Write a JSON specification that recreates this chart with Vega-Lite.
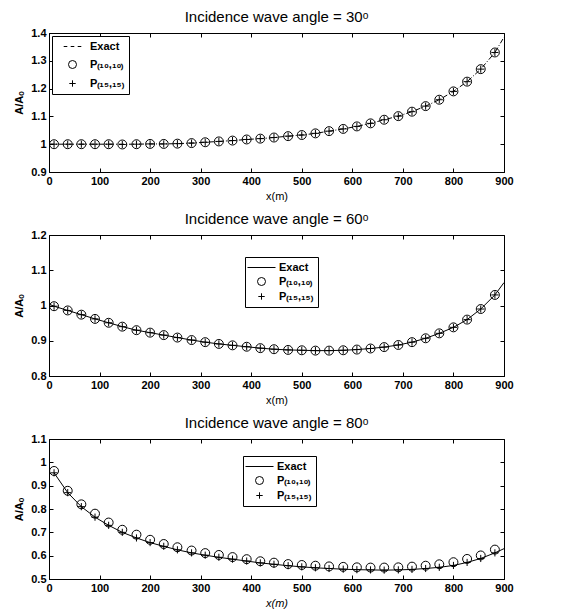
{
  "$schema": "https://vega.github.io/schema/vega-lite/v6.json",
  "padding": {"left": 13, "top": 9, "right": 5, "bottom": 2},
  "background": "white",
  "datasets": {
    "a30": [
      {"x": 0, "Exact": 1.0},
      {"x": 10, "Exact": 1.0, "P10": 1.0, "P15": 1.0},
      {"x": 37, "Exact": 1.0, "P10": 1.0, "P15": 1.0},
      {"x": 64, "Exact": 1.0, "P10": 1.0, "P15": 1.0},
      {"x": 91, "Exact": 1.0, "P10": 1.0, "P15": 1.0},
      {"x": 118, "Exact": 1.0, "P10": 1.0, "P15": 1.0},
      {"x": 145, "Exact": 1.0, "P10": 0.999, "P15": 0.999},
      {"x": 173, "Exact": 1.0, "P10": 1.0, "P15": 1.0},
      {"x": 200, "Exact": 1.001, "P10": 1.001, "P15": 1.001},
      {"x": 227, "Exact": 1.001, "P10": 1.001, "P15": 1.001},
      {"x": 254, "Exact": 1.002, "P10": 1.002, "P15": 1.002},
      {"x": 282, "Exact": 1.004, "P10": 1.004, "P15": 1.004},
      {"x": 309, "Exact": 1.007, "P10": 1.007, "P15": 1.007},
      {"x": 336, "Exact": 1.01, "P10": 1.01, "P15": 1.01},
      {"x": 363, "Exact": 1.013, "P10": 1.013, "P15": 1.013},
      {"x": 391, "Exact": 1.017, "P10": 1.017, "P15": 1.017},
      {"x": 418, "Exact": 1.02, "P10": 1.02, "P15": 1.02},
      {"x": 445, "Exact": 1.024, "P10": 1.024, "P15": 1.024},
      {"x": 473, "Exact": 1.029, "P10": 1.029, "P15": 1.029},
      {"x": 500, "Exact": 1.033, "P10": 1.033, "P15": 1.033},
      {"x": 527, "Exact": 1.039, "P10": 1.039, "P15": 1.039},
      {"x": 554, "Exact": 1.047, "P10": 1.047, "P15": 1.047},
      {"x": 582, "Exact": 1.055, "P10": 1.055, "P15": 1.055},
      {"x": 609, "Exact": 1.064, "P10": 1.064, "P15": 1.064},
      {"x": 636, "Exact": 1.075, "P10": 1.075, "P15": 1.075},
      {"x": 663, "Exact": 1.088, "P10": 1.088, "P15": 1.088},
      {"x": 691, "Exact": 1.101, "P10": 1.101, "P15": 1.101},
      {"x": 718, "Exact": 1.117, "P10": 1.117, "P15": 1.117},
      {"x": 745, "Exact": 1.137, "P10": 1.137, "P15": 1.137},
      {"x": 772, "Exact": 1.16, "P10": 1.16, "P15": 1.16},
      {"x": 800, "Exact": 1.19, "P10": 1.19, "P15": 1.19},
      {"x": 827, "Exact": 1.225, "P10": 1.225, "P15": 1.225},
      {"x": 854, "Exact": 1.27, "P10": 1.27, "P15": 1.27},
      {"x": 882, "Exact": 1.33, "P10": 1.33, "P15": 1.33},
      {"x": 900, "Exact": 1.385}
    ],
    "a60": [
      {"x": 0, "Exact": 1.004},
      {"x": 10, "Exact": 0.998, "P10": 0.998, "P15": 0.998},
      {"x": 37, "Exact": 0.986, "P10": 0.986, "P15": 0.986},
      {"x": 64, "Exact": 0.974, "P10": 0.974, "P15": 0.974},
      {"x": 91, "Exact": 0.962, "P10": 0.962, "P15": 0.962},
      {"x": 118, "Exact": 0.951, "P10": 0.951, "P15": 0.951},
      {"x": 145, "Exact": 0.94, "P10": 0.94, "P15": 0.94},
      {"x": 173, "Exact": 0.93, "P10": 0.93, "P15": 0.93},
      {"x": 200, "Exact": 0.923, "P10": 0.923, "P15": 0.923},
      {"x": 227, "Exact": 0.916, "P10": 0.916, "P15": 0.916},
      {"x": 254, "Exact": 0.909, "P10": 0.909, "P15": 0.909},
      {"x": 282, "Exact": 0.902, "P10": 0.902, "P15": 0.902},
      {"x": 309, "Exact": 0.896, "P10": 0.896, "P15": 0.896},
      {"x": 336, "Exact": 0.891, "P10": 0.891, "P15": 0.891},
      {"x": 363, "Exact": 0.887, "P10": 0.887, "P15": 0.887},
      {"x": 391, "Exact": 0.883, "P10": 0.883, "P15": 0.883},
      {"x": 418, "Exact": 0.879, "P10": 0.879, "P15": 0.879},
      {"x": 445, "Exact": 0.876, "P10": 0.876, "P15": 0.876},
      {"x": 473, "Exact": 0.874, "P10": 0.874, "P15": 0.874},
      {"x": 500, "Exact": 0.873, "P10": 0.873, "P15": 0.873},
      {"x": 527, "Exact": 0.872, "P10": 0.872, "P15": 0.872},
      {"x": 554, "Exact": 0.872, "P10": 0.872, "P15": 0.872},
      {"x": 582, "Exact": 0.873, "P10": 0.873, "P15": 0.873},
      {"x": 609, "Exact": 0.875, "P10": 0.875, "P15": 0.875},
      {"x": 636, "Exact": 0.878, "P10": 0.878, "P15": 0.878},
      {"x": 663, "Exact": 0.882, "P10": 0.882, "P15": 0.882},
      {"x": 691, "Exact": 0.888, "P10": 0.888, "P15": 0.888},
      {"x": 718, "Exact": 0.896, "P10": 0.896, "P15": 0.896},
      {"x": 745, "Exact": 0.907, "P10": 0.907, "P15": 0.907},
      {"x": 772, "Exact": 0.921, "P10": 0.921, "P15": 0.921},
      {"x": 800, "Exact": 0.938, "P10": 0.938, "P15": 0.938},
      {"x": 827, "Exact": 0.96, "P10": 0.96, "P15": 0.96},
      {"x": 854, "Exact": 0.99, "P10": 0.99, "P15": 0.99},
      {"x": 882, "Exact": 1.03, "P10": 1.03, "P15": 1.03},
      {"x": 900, "Exact": 1.065}
    ],
    "a80": [
      {"x": 10, "Exact": 0.955, "P10": 0.963, "P15": 0.955},
      {"x": 37, "Exact": 0.87, "P10": 0.878, "P15": 0.87},
      {"x": 64, "Exact": 0.81, "P10": 0.82, "P15": 0.81},
      {"x": 91, "Exact": 0.765, "P10": 0.78, "P15": 0.765},
      {"x": 118, "Exact": 0.73, "P10": 0.742, "P15": 0.73},
      {"x": 145, "Exact": 0.7, "P10": 0.711, "P15": 0.7},
      {"x": 173, "Exact": 0.676, "P10": 0.69, "P15": 0.676},
      {"x": 200, "Exact": 0.656, "P10": 0.668, "P15": 0.656},
      {"x": 227, "Exact": 0.64, "P10": 0.65, "P15": 0.64},
      {"x": 254, "Exact": 0.625, "P10": 0.636, "P15": 0.625},
      {"x": 282, "Exact": 0.612, "P10": 0.622, "P15": 0.612},
      {"x": 309, "Exact": 0.602, "P10": 0.611, "P15": 0.602},
      {"x": 336, "Exact": 0.593, "P10": 0.603, "P15": 0.593},
      {"x": 363, "Exact": 0.585, "P10": 0.594, "P15": 0.585},
      {"x": 391, "Exact": 0.577, "P10": 0.585, "P15": 0.577},
      {"x": 418, "Exact": 0.569, "P10": 0.576, "P15": 0.569},
      {"x": 445, "Exact": 0.563, "P10": 0.57, "P15": 0.563},
      {"x": 473, "Exact": 0.557, "P10": 0.564, "P15": 0.557},
      {"x": 500, "Exact": 0.552, "P10": 0.56, "P15": 0.552},
      {"x": 527, "Exact": 0.548, "P10": 0.557, "P15": 0.548},
      {"x": 554, "Exact": 0.545, "P10": 0.554, "P15": 0.545},
      {"x": 582, "Exact": 0.542, "P10": 0.552, "P15": 0.542},
      {"x": 609, "Exact": 0.54, "P10": 0.55, "P15": 0.54},
      {"x": 636, "Exact": 0.539, "P10": 0.549, "P15": 0.539},
      {"x": 663, "Exact": 0.538, "P10": 0.549, "P15": 0.538},
      {"x": 691, "Exact": 0.539, "P10": 0.55, "P15": 0.539},
      {"x": 718, "Exact": 0.541, "P10": 0.553, "P15": 0.541},
      {"x": 745, "Exact": 0.545, "P10": 0.557, "P15": 0.545},
      {"x": 772, "Exact": 0.55, "P10": 0.563, "P15": 0.55},
      {"x": 800, "Exact": 0.558, "P10": 0.572, "P15": 0.558},
      {"x": 827, "Exact": 0.571, "P10": 0.586, "P15": 0.571},
      {"x": 854, "Exact": 0.588, "P10": 0.601, "P15": 0.588},
      {"x": 882, "Exact": 0.612, "P10": 0.626, "P15": 0.612},
      {"x": 900, "Exact": 0.63}
    ]
  },
  "vconcat": [
    {
      "title": {"text": "Incidence wave angle = 30ᵒ"},
      "width": 455, "height": 139,
      "data": {"name": "a30"},
      "transform": [
        {"fold": ["Exact", "P10", "P15"], "as": ["series", "value"]},
        {"filter": "isValid(datum.value)"}
      ],
      "layer": [
        {
          "transform": [{"filter": "datum.series === 'Exact'"}],
          "mark": {"type": "line", "color": "black", "strokeWidth": 1, "strokeDash": [5, 2, 1, 2]},
          "encoding": {
            "x": {"field": "x", "type": "quantitative", "scale": {"domain": [0, 900], "nice": false},
                  "axis": {"values": [0,100,200,300,400,500,600,700,800,900], "title": "x(m)"}},
            "y": {"field": "value", "type": "quantitative", "scale": {"domain": [0.9, 1.4], "nice": false, "zero": false},
                  "axis": {"values": [0.9,1.0,1.1,1.2,1.3,1.4], "title": "A/Aₒ", "format": "~g"}}
          }
        },
        {
          "transform": [{"filter": "datum.series !== 'Exact'"}],
          "mark": {"type": "point", "filled": false, "color": "black", "size": 80, "strokeWidth": 1, "opacity": 1},
          "encoding": {
            "x": {"field": "x", "type": "quantitative", "scale": {"domain": [0, 900], "nice": false},
                  "axis": {"orient": "top", "values": [0,100,200,300,400,500,600,700,800,900], "labels": false, "domain": false, "title": null}},
            "y": {"field": "value", "type": "quantitative", "scale": {"domain": [0.9, 1.4], "nice": false, "zero": false},
                  "axis": {"orient": "right", "values": [0.9,1.0,1.1,1.2,1.3,1.4], "labels": false, "domain": false, "title": null}},
            "shape": {"field": "series", "type": "nominal",
                      "scale": {"domain": ["Exact", "P10", "P15"], "range": ["M-2.2,0H-1.3M-0.45,0H0.45M1.3,0H2.2", "circle", "M-0.8,0H0.8M0,-0.8V0.8"]},
                      "legend": {"orient": "top-left", "offset": 3, "symbolOffset": 10, "labelOffset": 12, "rowPadding": 6,
                                 "labelExpr": "datum.label === 'P10' ? 'P₍₁₀,₁₀₎' : datum.label === 'P15' ? 'P₍₁₅,₁₅₎' : datum.label"}}
          }
        }
      ],
      "resolve": {"axis": {"x": "independent", "y": "independent"}}
    },
    {
      "title": {"text": "Incidence wave angle = 60ᵒ"},
      "width": 455, "height": 141,
      "data": {"name": "a60"},
      "transform": [
        {"fold": ["Exact", "P10", "P15"], "as": ["series", "value"]},
        {"filter": "isValid(datum.value)"}
      ],
      "layer": [
        {
          "transform": [{"filter": "datum.series === 'Exact'"}],
          "mark": {"type": "line", "color": "black", "strokeWidth": 1},
          "encoding": {
            "x": {"field": "x", "type": "quantitative", "scale": {"domain": [0, 900], "nice": false},
                  "axis": {"values": [0,100,200,300,400,500,600,700,800,900], "title": "x(m)"}},
            "y": {"field": "value", "type": "quantitative", "scale": {"domain": [0.8, 1.2], "nice": false, "zero": false},
                  "axis": {"values": [0.8,0.9,1.0,1.1,1.2], "title": "A/Aₒ", "format": "~g"}}
          }
        },
        {
          "transform": [{"filter": "datum.series !== 'Exact'"}],
          "mark": {"type": "point", "filled": false, "color": "black", "size": 80, "strokeWidth": 1, "opacity": 1},
          "encoding": {
            "x": {"field": "x", "type": "quantitative", "scale": {"domain": [0, 900], "nice": false},
                  "axis": {"orient": "top", "values": [0,100,200,300,400,500,600,700,800,900], "labels": false, "domain": false, "title": null}},
            "y": {"field": "value", "type": "quantitative", "scale": {"domain": [0.8, 1.2], "nice": false, "zero": false},
                  "axis": {"orient": "right", "values": [0.8,0.9,1.0,1.1,1.2], "labels": false, "domain": false, "title": null}},
            "shape": {"field": "series", "type": "nominal",
                      "scale": {"domain": ["Exact", "P10", "P15"], "range": ["M-3.5,0H3.5", "circle", "M-0.8,0H0.8M0,-0.8V0.8"]},
                      "legend": {"orient": "none", "legendX": 196, "legendY": 22, "symbolOffset": 6, "labelOffset": 12, "rowPadding": 2,
                                 "labelExpr": "datum.label === 'P10' ? 'P₍₁₀,₁₀₎' : datum.label === 'P15' ? 'P₍₁₅,₁₅₎' : datum.label"}}
          }
        }
      ],
      "resolve": {"axis": {"x": "independent", "y": "independent"}}
    },
    {
      "title": {"text": "Incidence wave angle = 80ᵒ"},
      "width": 455, "height": 140,
      "data": {"name": "a80"},
      "transform": [
        {"fold": ["Exact", "P10", "P15"], "as": ["series", "value"]},
        {"filter": "isValid(datum.value)"}
      ],
      "layer": [
        {
          "transform": [{"filter": "datum.series === 'Exact'"}],
          "mark": {"type": "line", "color": "black", "strokeWidth": 1},
          "encoding": {
            "x": {"field": "x", "type": "quantitative", "scale": {"domain": [0, 900], "nice": false},
                  "axis": {"values": [0,100,200,300,400,500,600,700,800,900], "title": "x(m)", "titleFontStyle": "italic"}},
            "y": {"field": "value", "type": "quantitative", "scale": {"domain": [0.5, 1.1], "nice": false, "zero": false},
                  "axis": {"values": [0.5,0.6,0.7,0.8,0.9,1.0,1.1], "title": "A/Aₒ", "format": "~g"}}
          }
        },
        {
          "transform": [{"filter": "datum.series !== 'Exact'"}],
          "mark": {"type": "point", "filled": false, "color": "black", "size": 80, "strokeWidth": 1, "opacity": 1},
          "encoding": {
            "x": {"field": "x", "type": "quantitative", "scale": {"domain": [0, 900], "nice": false},
                  "axis": {"orient": "top", "values": [0,100,200,300,400,500,600,700,800,900], "labels": false, "domain": false, "title": null}},
            "y": {"field": "value", "type": "quantitative", "scale": {"domain": [0.5, 1.1], "nice": false, "zero": false},
                  "axis": {"orient": "right", "values": [0.5,0.6,0.7,0.8,0.9,1.0,1.1], "labels": false, "domain": false, "title": null}},
            "shape": {"field": "series", "type": "nominal",
                      "scale": {"domain": ["Exact", "P10", "P15"], "range": ["M-3.5,0H3.5", "circle", "M-0.8,0H0.8M0,-0.8V0.8"]},
                      "legend": {"orient": "none", "legendX": 194, "legendY": 17, "symbolOffset": 6, "labelOffset": 12, "rowPadding": 2,
                                 "labelExpr": "datum.label === 'P10' ? 'P₍₁₀,₁₀₎' : datum.label === 'P15' ? 'P₍₁₅,₁₅₎' : datum.label"}}
          }
        }
      ],
      "resolve": {"axis": {"x": "independent", "y": "independent"}}
    }
  ],
  "spacing": 9,
  "resolve": {"scale": {"shape": "independent", "x": "independent", "y": "independent"}, "legend": {"shape": "independent"}},
  "config": {
    "font": "Liberation Sans",
    "view": {"stroke": "black", "strokeWidth": 1},
    "title": {"fontSize": 15, "fontWeight": "normal", "color": "black", "offset": 2},
    "axis": {
      "grid": false,
      "domainColor": "black",
      "tickColor": "black",
      "tickSize": -4,
      "labelPadding": 7,
      "labelFontSize": 11,
      "labelFontWeight": "bold",
      "labelColor": "black",
      "labelFlush": false,
      "labelOverlap": false,
      "titleFontSize": 11,
      "titleFontWeight": "normal",
      "titleColor": "black",
      "titlePadding": 4
    },
    "axisY": {"titleFontWeight": "bold", "titlePadding": 6},
    "legend": {
      "title": null,
      "strokeColor": "black",
      "fillColor": "white",
      "padding": 5,
      "labelFontSize": 11,
      "labelFontWeight": "bold",
      "labelColor": "black",
      "symbolSize": 64,
      "symbolStrokeColor": "black",
      "symbolFillColor": "transparent",
      "symbolStrokeWidth": 1
    }
  }
}
